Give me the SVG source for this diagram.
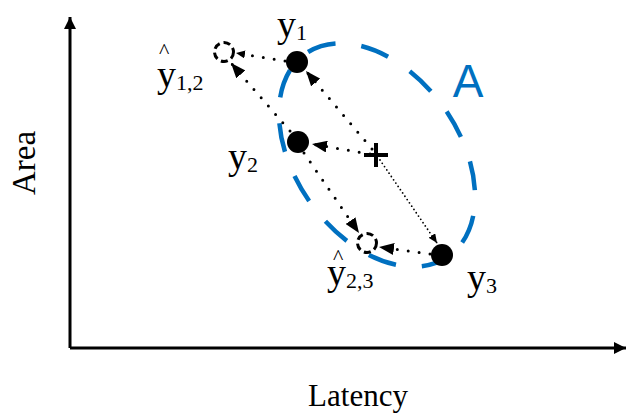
<svg xmlns="http://www.w3.org/2000/svg" width="632" height="417" viewBox="0 0 632 417">
<style>
text.lbl{font-family:'Liberation Serif',serif;fill:#000}
.dot{fill:none;stroke:#000;stroke-width:3;stroke-linecap:round;stroke-dasharray:0 11}
.fine{fill:none;stroke:#000;stroke-width:1.8;stroke-linecap:round;stroke-dasharray:0 4}
.pt{fill:#000}
.est{fill:none;stroke:#000;stroke-width:3;stroke-dasharray:7 4}
.axis{fill:none;stroke:#000;stroke-width:3}
</style>
<defs>
<marker id="ah" markerUnits="userSpaceOnUse" markerWidth="15" markerHeight="12" refX="15" refY="6" orient="auto"><path d="M0,0 L15,6 L0,12 Z" fill="#000"/></marker>
<marker id="ahs" markerUnits="userSpaceOnUse" markerWidth="9" markerHeight="8" refX="9" refY="4" orient="auto"><path d="M0,0 L9,4 L0,8 Z" fill="#000"/></marker>
<marker id="ax" markerUnits="userSpaceOnUse" markerWidth="12" markerHeight="12" refX="12" refY="6" orient="auto"><path d="M0,0 L12,6 L0,12 Z" fill="#000"/></marker>
</defs>
<g id="axes">
<path class="axis" d="M70,348 V17" marker-end="url(#ax)"/>
<path class="axis" d="M70,348 H626" marker-end="url(#ax)"/>
<text class="lbl" x="358" y="406" font-size="31" text-anchor="middle">Latency</text>
<text class="lbl" font-size="33" text-anchor="middle" transform="translate(35,163) rotate(-90)">Area</text>
</g>
<g id="regionA">
<ellipse cx="377" cy="155" rx="124" ry="82" transform="rotate(54.7 377 155)" fill="none" stroke="#0070C0" stroke-width="4.5" stroke-dasharray="29 26"/>
<text x="468" y="97" font-family="Liberation Sans,Arial,sans-serif" font-size="46" fill="#0070C0" text-anchor="middle">A</text>
</g>
<g id="connectors">
<path class="dot" d="M285,61 L236,53" marker-end="url(#ahs)"/>
<path class="dot" d="M290,131 L231,63" marker-end="url(#ah)"/>
<path class="dot" d="M372,149 L306,71" marker-end="url(#ah)"/>
<path class="dot" d="M370,154 L312,144" marker-end="url(#ah)"/>
<path class="fine" d="M380,160 L437,243" marker-end="url(#ahs)"/>
<path class="dot" d="M304,153 L359,233" marker-end="url(#ah)"/>
<path class="dot" d="M430,254 L379,247" marker-end="url(#ah)"/>
</g>
<g id="y1">
<circle class="pt" cx="297" cy="62" r="11"/>
<text class="lbl" x="277" y="37" font-size="38">y<tspan font-size="22" dy="3">1</tspan></text>
</g>
<g id="y2">
<circle class="pt" cx="298" cy="142" r="11"/>
<text class="lbl" x="228" y="169" font-size="38">y<tspan font-size="22" dy="3">2</tspan></text>
</g>
<g id="y3">
<circle class="pt" cx="442" cy="255" r="11"/>
<text class="lbl" x="467" y="290" font-size="38">y<tspan font-size="22" dy="3">3</tspan></text>
</g>
<g id="yhat12">
<circle class="est" cx="224" cy="52" r="9.5"/>
<text class="lbl"><tspan x="159" y="58" font-size="22">^</tspan><tspan x="157" y="87" font-size="38">y</tspan><tspan font-size="22" dy="3">1,2</tspan></text>
</g>
<g id="yhat23">
<circle class="est" cx="367" cy="243" r="9.5"/>
<text class="lbl"><tspan x="333" y="264" font-size="22">^</tspan><tspan x="327" y="285" font-size="38">y</tspan><tspan font-size="22" dy="3">2,3</tspan></text>
</g>
<g id="centroid">
<path d="M364,155 H388 M376,143 V167" stroke="#000" stroke-width="4" fill="none"/>
</g>
</svg>
